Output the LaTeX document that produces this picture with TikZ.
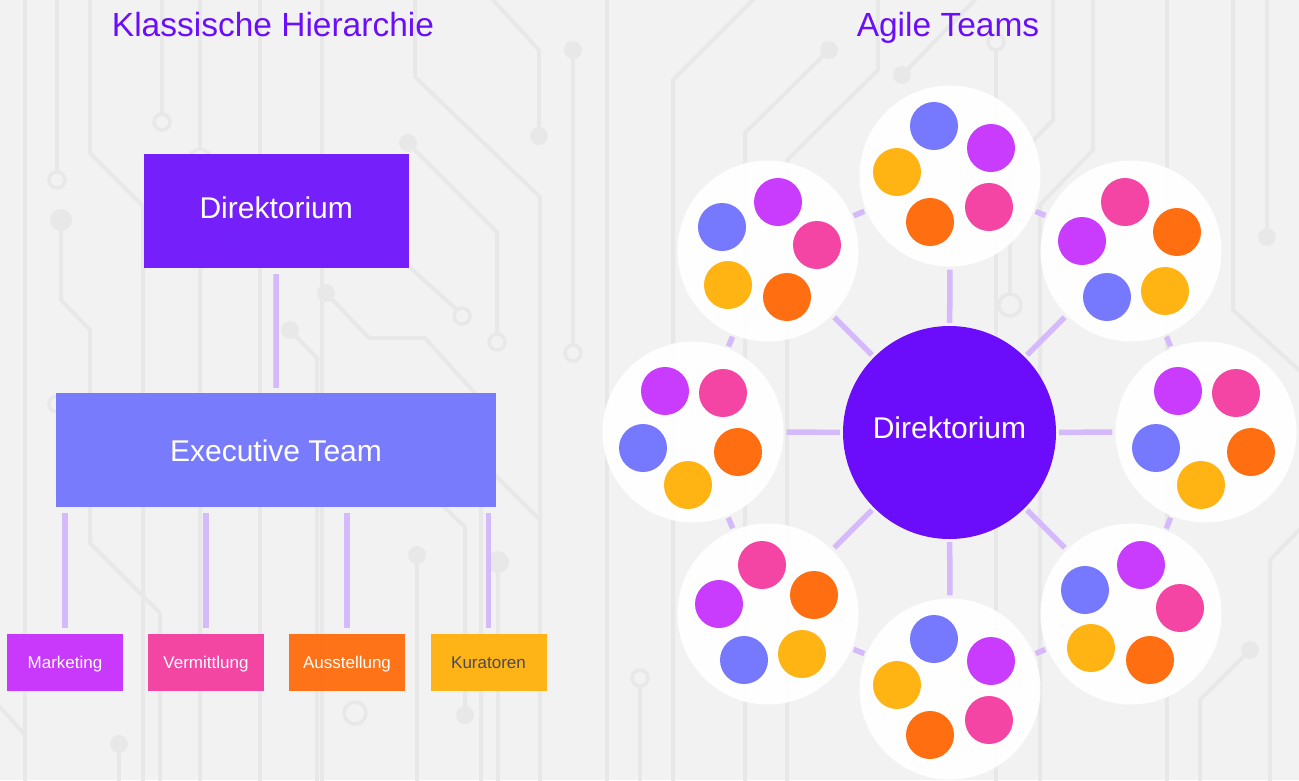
\documentclass[tikz,border=0pt]{standalone}
\usepackage{fontspec}
\setmainfont{Liberation Sans}
\usetikzlibrary{calc}
\definecolor{cBg}{HTML}{F3F2F3}
\definecolor{cTrace}{HTML}{E9E8E9}
\definecolor{cTitle}{HTML}{6A0FFA}
\definecolor{cDir}{HTML}{7018FC}
\definecolor{cExe}{HTML}{7577FE}
\definecolor{cLine}{HTML}{D4B9FB}
\definecolor{cMark}{HTML}{C832FD}
\definecolor{cVerm}{HTML}{F43FA0}
\definecolor{cAus}{HTML}{FF6D10}
\definecolor{cKur}{HTML}{FFB10F}
\definecolor{cKurText}{HTML}{4A4A55}
\definecolor{cCenter}{HTML}{6B0CFB}
\definecolor{cBlue}{HTML}{7679FD}
\definecolor{cPurple}{HTML}{C93CFD}
\definecolor{cPink}{HTML}{F445A4}
\definecolor{cOrange}{HTML}{FF6F12}
\definecolor{cYellow}{HTML}{FFB414}
\newcommand\mydot[4]{\fill[#2] ($(#1)+(#3,#4)$) circle[radius=24pt];}
\newcommand\patA[1]{\mydot{#1}{cBlue}{-16}{-50}\mydot{#1}{cPurple}{41}{-28}\mydot{#1}{cYellow}{-53}{-4}\mydot{#1}{cOrange}{-20}{46}\mydot{#1}{cPink}{39}{31}}
\newcommand\patB[1]{\mydot{#1}{cPurple}{10}{-49}\mydot{#1}{cBlue}{-46}{-24}\mydot{#1}{cPink}{49}{-6}\mydot{#1}{cYellow}{-40}{34}\mydot{#1}{cOrange}{19}{46}}
\newcommand\patC[1]{\mydot{#1}{cPink}{-6}{-49}\mydot{#1}{cOrange}{46}{-19}\mydot{#1}{cPurple}{-49}{-10}\mydot{#1}{cYellow}{34}{40}\mydot{#1}{cBlue}{-24}{46}}
\newcommand\patD[1]{\mydot{#1}{cPurple}{-28}{-41}\mydot{#1}{cPink}{30}{-39}\mydot{#1}{cBlue}{-50}{16}\mydot{#1}{cOrange}{45}{20}\mydot{#1}{cYellow}{-5}{53}}
\begin{document}
\begin{tikzpicture}[x=1pt,y=-1pt,
  trace/.style={draw=cTrace,line width=4pt,line cap=round,line join=round},
  ring/.style={draw=cTrace,line width=3.5pt,fill=cBg},
  tdot/.style={fill=cTrace},
  conn/.style={draw=cLine,line width=5.5pt},
  title/.style={anchor=base,text=cTitle,font=\fontsize{33.5}{40}\selectfont},
  box/.style={rectangle,inner sep=0pt,fill opacity=0.96,text opacity=1},
  bigbox/.style={box,text=white,font=\fontsize{30}{36}\selectfont},
  smallbox/.style={box,minimum width=116pt,minimum height=57pt,text height=11pt,text depth=0pt,font=\fontsize{17}{20}\selectfont},
  team/.style={circle,fill=white,fill opacity=0.93,minimum size=181pt,inner sep=0pt},
  ]
\fill[cBg] (0,0) rectangle (1299,780);
\useasboundingbox (0,0) rectangle (1299,780);
% ---- background circuit traces ----
\draw[trace] (25,0)--(25,780);
\draw[trace] (57,0)--(57,170);
\draw[trace] (90,0)--(90,153)--(143,206)--(143,780);
\draw[trace] (61,220)--(61,300)--(90,330)--(90,543)--(160,613)--(160,780);
\draw[trace] (162,0)--(162,112);
\draw[trace] (200,0)--(200,148);
\draw[trace] (227,237)--(200,264)--(200,780);
\draw[trace] (260,0)--(260,780);
\draw[trace] (322,0)--(322,780);
\draw[trace] (415,0)--(415,77)--(540,197)--(540,780);
\draw[trace] (493,0)--(539,50)--(539,133);
\draw[trace] (573,50)--(573,343);
\draw[trace] (408,143)--(497,232)--(497,333);
\draw[trace] (607,0)--(607,780);
\draw[trace] (357,220)--(455,308);
\draw[trace] (326,293)--(369,338)--(425,338)--(481,400)--(481,780);
\draw[trace] (290,330)--(317,358)--(317,780);
\draw[trace] (466,446)--(540,520);
\draw[trace] (411,475)--(465,527)--(465,715);
\draw[trace] (417,555)--(417,780);
\draw[trace] (498,562)--(498,780);
\draw[trace] (640,688)--(640,780);
\draw[trace] (0,707)--(25,735);
\draw[trace] (119,744)--(119,780);
\draw[trace] (673,780)--(673,80)--(753,0);
\draw[trace] (829,50)--(745,133)--(745,780);
\draw[trace] (878,0)--(878,70)--(787,160)--(787,780);
\draw[trace] (902,75)--(975,0);
\draw[trace] (996,52)--(996,780);
\draw[trace] (1053,0)--(1053,120)--(1010,165)--(1010,295);
\draw[trace] (1093,0)--(1093,150)--(1040,205)--(1040,780);
\draw[trace] (1167,0)--(1167,780);
\draw[trace] (1233,0)--(1233,310)--(1299,370);
\draw[trace] (1267,0)--(1267,237);
\draw[trace] (1270,780)--(1270,560)--(1299,530);
\draw[trace] (1200,780)--(1200,700)--(1250,650);
\fill[tdot] (61,220) circle[radius=11pt];
\fill[tdot] (227,237) circle[radius=9pt];
\fill[tdot] (539,136) circle[radius=9pt];
\fill[tdot] (573,50) circle[radius=9pt];
\fill[tdot] (408,143) circle[radius=9pt];
\fill[tdot] (326,293) circle[radius=9pt];
\fill[tdot] (290,330) circle[radius=9pt];
\fill[tdot] (411,475) circle[radius=9pt];
\fill[tdot] (465,715) circle[radius=9pt];
\fill[tdot] (417,555) circle[radius=9pt];
\fill[tdot] (498,562) circle[radius=11pt];
\fill[tdot] (119,744) circle[radius=9pt];
\fill[tdot] (829,50) circle[radius=9pt];
\fill[tdot] (902,75) circle[radius=9pt];
\fill[tdot] (1267,237) circle[radius=9pt];
\fill[tdot] (1250,650) circle[radius=9pt];
\draw[ring] (57,180) circle[radius=8pt];
\draw[ring] (162,122) circle[radius=8pt];
\draw[ring] (200,160) circle[radius=11pt];
\draw[ring] (573,353) circle[radius=8pt];
\draw[ring] (497,342) circle[radius=8pt];
\draw[ring] (462,316) circle[radius=8pt];
\draw[ring] (57,404) circle[radius=8pt];
\draw[ring] (200,433) circle[radius=8pt];
\draw[ring] (460,440) circle[radius=11pt];
\draw[ring] (640,678) circle[radius=8pt];
\draw[ring] (355,713) circle[radius=11pt];
\draw[ring] (996,42) circle[radius=8pt];
\draw[ring] (1010,305) circle[radius=11pt];
% ---- titles ----
\node[title] (tl) at (273,36.5) {Klassische Hierarchie};
\node[title] (tr) at (948,36.5) {Agile Teams};
% ---- classic hierarchy ----
\node[bigbox,fill=cDir,minimum width=265.5pt,minimum height=114pt,text height=14pt,text depth=0pt] (dir) at (276.25,211) {Direktorium};
\node[bigbox,fill=cExe,minimum width=440pt,minimum height=114pt,text height=23pt,text depth=0pt] (exe) at (276,450) {Executive Team};
\node[smallbox,fill=cMark,text=white] (mkt) at (65,662.5) {Marketing};
\node[smallbox,fill=cVerm,text=white] (ver) at (206,662.5) {Vermittlung};
\node[smallbox,fill=cAus,text=white] (aus) at (347,662.5) {Ausstellung};
\node[smallbox,fill=cKur,text=cKurText] (kur) at (488.5,662.5) {Kuratoren};
\draw[conn,shorten <=6pt,shorten >=5pt] (dir.south) -- (exe.north);
\foreach \b in {mkt,ver,aus,kur}{
  \draw[conn,shorten <=6pt,shorten >=6pt] (\b.north |- exe.south) -- (\b.north);
}
% ---- agile teams ----
\node[team] (T1) at (950,176) {};
\node[team] (T2) at (1131,251) {};
\node[team] (T3) at (1206,432) {};
\node[team] (T4) at (1131,614) {};
\node[team] (T5) at (950,689) {};
\node[team] (T6) at (768,614) {};
\node[team] (T7) at (693,432) {};
\node[team] (T8) at (768,251) {};
\node[circle,fill=cCenter,minimum size=213pt,inner sep=0pt,text=white,font=\fontsize{30}{36}\selectfont,text height=11pt,text depth=0pt] (C) at (949.5,432.5) {Direktorium};
\foreach \t in {T1,T2,T3,T4,T5,T6,T7,T8}{
  \draw[conn,shorten <=3pt,shorten >=3pt] (C) -- (\t);
}
\foreach \a/\b in {T1/T2,T2/T3,T3/T4,T4/T5,T5/T6,T6/T7,T7/T8,T8/T1}{
  \draw[conn,shorten <=2pt,shorten >=2pt] (\a) -- (\b);
}
\patA{T1}
\patA{T5}
\patB{T8}
\patB{T4}
\patC{T2}
\patC{T6}
\patD{T7}
\patD{T3}
\end{tikzpicture}
\end{document}
